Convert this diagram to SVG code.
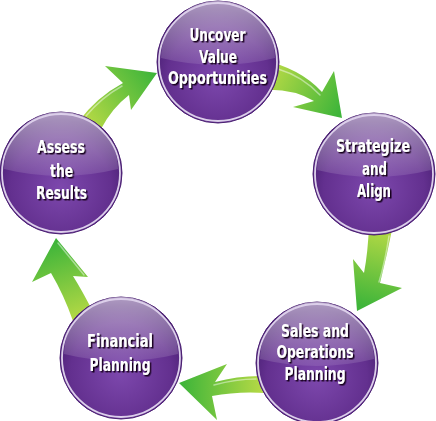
<svg xmlns="http://www.w3.org/2000/svg" xmlns:xlink="http://www.w3.org/1999/xlink" width="436" height="421" viewBox="0 0 436 421">
<defs>
<style>
.lbl{font-family:"Liberation Sans Narrow","DejaVu Sans Condensed","Liberation Sans",sans-serif;font-weight:bold;font-size:17.5px;fill:#ffffff;text-anchor:middle;filter:url(#sh)}
.hl{fill:none;stroke:#ffffff;stroke-opacity:0.45;stroke-width:1.5;stroke-linecap:round}
</style>
<filter id="sh" x="-20%" y="-40%" width="140%" height="180%">
<feDropShadow dx="1.5" dy="1.5" stdDeviation="0.7" flood-color="#14061f" flood-opacity="1"/>
</filter>
<radialGradient id="ballFill" cx="50%" cy="62%" r="55%">
<stop offset="0" stop-color="#7d48ad"/>
<stop offset="0.75" stop-color="#63308f"/>
<stop offset="1" stop-color="#4c2176"/>
</radialGradient>
<linearGradient id="gloss" x1="0" y1="0" x2="0" y2="1">
<stop offset="0" stop-color="#ffffff" stop-opacity="0.55"/>
<stop offset="1" stop-color="#ffffff" stop-opacity="0.1"/>
</linearGradient>
<g id="ball">
<circle r="61" fill="url(#ballFill)" stroke="#4a1f72" stroke-width="1"/>
<path d="M -57 -4 A 57 57 0 0 1 57 -4 Q 0 10 -57 -4 Z" fill="url(#gloss)"/>
<circle r="59" fill="none" stroke="#dccfea" stroke-width="1.8"/>
</g>
<linearGradient id="g1" gradientUnits="userSpaceOnUse" x1="270" y1="75" x2="340" y2="110"><stop offset="0" stop-color="#b5d945"/><stop offset="1" stop-color="#3fb53a"/></linearGradient>
<linearGradient id="g2" gradientUnits="userSpaceOnUse" x1="380" y1="228" x2="360" y2="305"><stop offset="0" stop-color="#b5d945"/><stop offset="1" stop-color="#3fb53a"/></linearGradient>
<linearGradient id="g3" gradientUnits="userSpaceOnUse" x1="262" y1="385" x2="182" y2="385"><stop offset="0" stop-color="#b5d945"/><stop offset="1" stop-color="#3fb53a"/></linearGradient>
<linearGradient id="g4" gradientUnits="userSpaceOnUse" x1="82" y1="318" x2="56" y2="242"><stop offset="0" stop-color="#b5d945"/><stop offset="1" stop-color="#3fb53a"/></linearGradient>
<linearGradient id="g5" gradientUnits="userSpaceOnUse" x1="88" y1="124" x2="155" y2="75"><stop offset="0" stop-color="#b5d945"/><stop offset="1" stop-color="#3fb53a"/></linearGradient>
</defs>
<rect width="436" height="421" fill="#ffffff"/>
<g id="connectors">
<path d="M 262 60 Q 300 68 322 92 L 334 71 L 342 118 L 293 107 L 314 101 Q 292 88 262 90 Z" fill="url(#g1)"/>
<path class="hl" d="M 278 69 Q 302 76 320 95"/>
<path d="M 369 225 Q 368 252 364 273 L 353 259 L 357 311 L 402 288 L 380 283 Q 387 255 393 225 Z" fill="url(#g2)"/>
<path class="hl" d="M 389 236 Q 385 262 379 282"/>
<path d="M 266 376 Q 240 375 215 382 L 227 364 L 179 383 L 217 420 L 212 396 Q 238 391 266 393 Z" fill="url(#g3)"/>
<path class="hl" d="M 256 379 Q 236 379 214 385"/>
<path d="M 56 238 L 88 277 L 73 276 Q 83 292 93 312 L 73 321 Q 64 295 51 273 L 32 282 Z" fill="url(#g4)"/>
<path class="hl" d="M 58 243 L 84 275"/>
<path d="M 157 73 L 131 110 L 129 95 Q 112 108 101 129 L 79 121 Q 97 97 123 83 L 105 66 Z" fill="url(#g5)"/>
<path class="hl" d="M 86 116 Q 102 97 122 86"/>
</g>
<g id="node-uncover" transform="translate(218,62)">
<use xlink:href="#ball"/>
<text class="lbl" x="-0.5" y="-21" textLength="56" lengthAdjust="spacingAndGlyphs">Uncover</text>
<text class="lbl" x="0" y="1" textLength="38" lengthAdjust="spacingAndGlyphs">Value</text>
<text class="lbl" x="-0.5" y="22" textLength="99" lengthAdjust="spacingAndGlyphs">Opportunities</text>
</g>
<g id="node-strategize" transform="translate(374,174)">
<use xlink:href="#ball"/>
<text class="lbl" x="-1" y="-22" textLength="74" lengthAdjust="spacingAndGlyphs">Strategize</text>
<text class="lbl" x="0.5" y="1" textLength="25" lengthAdjust="spacingAndGlyphs">and</text>
<text class="lbl" x="0" y="23" textLength="34" lengthAdjust="spacingAndGlyphs">Align</text>
</g>
<g id="node-sales" transform="translate(317,363)">
<use xlink:href="#ball"/>
<text class="lbl" x="-2" y="-26" textLength="68" lengthAdjust="spacingAndGlyphs">Sales and</text>
<text class="lbl" x="-2" y="-5" textLength="77" lengthAdjust="spacingAndGlyphs">Operations</text>
<text class="lbl" x="-2" y="17" textLength="61" lengthAdjust="spacingAndGlyphs">Planning</text>
</g>
<g id="node-financial" transform="translate(121,358)">
<use xlink:href="#ball"/>
<text class="lbl" x="-1" y="-11" textLength="66" lengthAdjust="spacingAndGlyphs">Financial</text>
<text class="lbl" x="-1" y="13" textLength="61" lengthAdjust="spacingAndGlyphs">Planning</text>
</g>
<g id="node-assess" transform="translate(61,173)">
<use xlink:href="#ball"/>
<text class="lbl" x="0" y="-20" textLength="48" lengthAdjust="spacingAndGlyphs">Assess</text>
<text class="lbl" x="0.5" y="4" textLength="23" lengthAdjust="spacingAndGlyphs">the</text>
<text class="lbl" x="0.5" y="26" textLength="51" lengthAdjust="spacingAndGlyphs">Results</text>
</g>
</svg>
